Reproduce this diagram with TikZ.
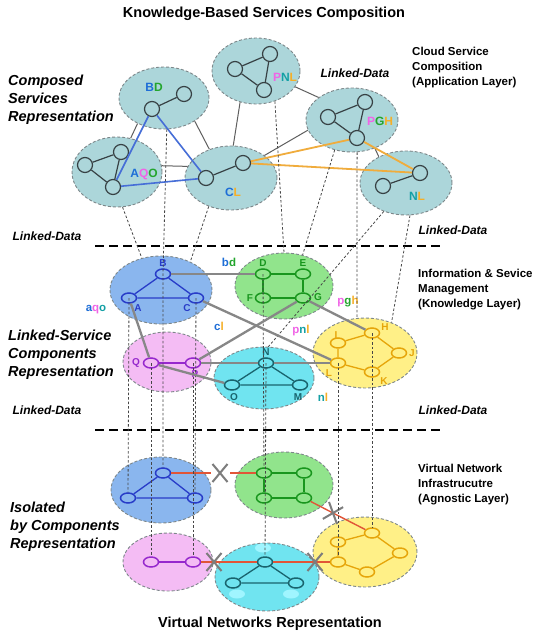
\documentclass[tikz,border=0pt]{standalone}
\usepackage{fontspec}
\setmainfont{Liberation Sans}
\usetikzlibrary{shapes.geometric,shapes.misc}
\definecolor{topfill}{RGB}{172,214,218}
\definecolor{topedge}{RGB}{125,135,138}
\definecolor{tnode}{RGB}{55,65,68}
\definecolor{blfill}{RGB}{138,182,238}
\definecolor{grfill}{RGB}{145,228,140}
\definecolor{pkfill}{RGB}{244,188,244}
\definecolor{cyfill}{RGB}{112,228,240}
\definecolor{cyspot}{RGB}{160,245,255}
\definecolor{yefill}{RGB}{255,240,135}
\definecolor{blline}{RGB}{40,60,200}
\definecolor{grline}{RGB}{25,150,30}
\definecolor{pkline}{RGB}{150,40,205}
\definecolor{cyline}{RGB}{25,100,110}
\definecolor{yeline}{RGB}{230,165,10}
\definecolor{lkgray}{RGB}{135,135,135}
\definecolor{xgray}{RGB}{125,125,125}
\definecolor{compblue}{RGB}{70,110,215}
\definecolor{comporange}{RGB}{240,172,60}
\definecolor{redl}{RGB}{225,85,55}
\definecolor{cA}{RGB}{30,110,215}
\definecolor{cG}{RGB}{35,165,45}
\definecolor{cP}{RGB}{240,100,230}
\definecolor{cN}{RGB}{20,160,165}
\definecolor{cL}{RGB}{245,175,40}
\definecolor{dotc}{RGB}{70,70,70}
\definecolor{glk}{RGB}{95,95,95}
\tikzset{
  grp/.style={ellipse, inner sep=0pt, draw=topedge, dash pattern=on 3pt off 2pt, line width=0.9pt},
  topgrp/.style={grp, fill=topfill},
  tn/.style={circle, draw=tnode, fill=topfill, line width=1.2pt, minimum size=15pt, inner sep=0pt},
  tedge/.style={draw=tnode, line width=1.2pt},
  glink/.style={draw=glk, line width=1pt},
  mn/.style={ellipse, inner sep=0pt, minimum width=15pt, minimum height=10pt, line width=1.5pt},
  mnb/.style={mn, draw=blline, fill=blfill},
  mng/.style={mn, draw=grline, fill=grfill},
  mnp/.style={mn, draw=pkline, fill=pkfill},
  mnc/.style={mn, draw=cyline, fill=cyfill},
  mny/.style={mn, draw=yeline, fill=yefill},
  dl/.style={draw=dotc, line width=0.8pt, dash pattern=on 2.5pt off 2pt},
  lk/.style={draw=lkgray, line width=2.3pt},
  sepline/.style={draw=black, line width=1.8pt, dash pattern=on 9pt off 5pt},
  redlink/.style={draw=redl, line width=1.4pt},
  xm/.style={cross out, draw=xgray, line width=2pt, minimum width=13pt, minimum height=16pt, inner sep=0pt},
  spot/.style={ellipse, fill=cyspot, inner sep=0pt, minimum width=16pt, minimum height=9pt},
  ml/.style={font=\bfseries\fontsize{10}{12}\selectfont, inner sep=0pt},
  lab12/.style={font=\bfseries\fontsize{12}{14}\selectfont, inner sep=0pt},
  lab11/.style={font=\bfseries\fontsize{11.5}{14}\selectfont, inner sep=0pt},
  bigital/.style={font=\bfseries\itshape\fontsize{14.5}{18}\selectfont, align=left, anchor=west, inner sep=0pt},
  rightlab/.style={font=\bfseries\fontsize{11.5}{15}\selectfont, align=left, anchor=west, inner sep=0pt},
  ldata/.style={font=\bfseries\itshape\fontsize{12}{14}\selectfont, inner sep=0pt},
  heading/.style={font=\bfseries\fontsize{14.5}{17}\selectfont, inner sep=0pt}
}
\begin{document}
\begin{tikzpicture}[x=1pt,y=-1pt]
\fill[white] (0,0) rectangle (535,635);
\useasboundingbox (0,0) rectangle (535,635);

% ---------- texts ----------
\node[heading] (title) at (264,14) {Knowledge-Based Services Composition};
\node[heading] (bottomtitle) at (270,624) {Virtual Networks Representation};
\node[bigital] (lt1) at (8,100) {Composed\\Services\\Representation};
\node[bigital] (lt2) at (8,355) {Linked-Service\\Components\\Representation};
\node[bigital] (lt3) at (10,527) {Isolated\\by Components\\Representation};
\node[rightlab] (rt1) at (412,68) {Cloud Service\\Composition\\(Application Layer)};
\node[rightlab] (rt2) at (418,290) {Information \& Sevice\\Management\\(Knowledge Layer)};
\node[rightlab] (rt3) at (418,485) {Virtual Network\\Infrastrucutre\\(Agnostic Layer)};
\node[ldata] (ld1) at (355,73) {Linked-Data};
\node[ldata] (ld2) at (47,236) {Linked-Data};
\node[ldata] (ld3) at (453,230) {Linked-Data};
\node[ldata] (ld4) at (47,410) {Linked-Data};
\node[ldata] (ld5) at (453,410) {Linked-Data};

% separators
\coordinate (s1a) at (95,246); \coordinate (s1b) at (441,246);
\coordinate (s2a) at (95,430); \coordinate (s2b) at (441,430);
\draw[sepline] (s1a) -- (s1b);
\draw[sepline] (s2a) -- (s2b);

% ---------- top layer ----------
\node[topgrp, minimum width=90pt, minimum height=62pt] (eBD) at (164,98) {};
\node[topgrp, minimum width=90pt, minimum height=70pt] (eAQO) at (117,172) {};
\node[topgrp, minimum width=92pt, minimum height=64pt] (eCL) at (231,178) {};
\node[topgrp, minimum width=88pt, minimum height=66pt] (ePNL) at (256,71) {};
\node[topgrp, minimum width=92pt, minimum height=64pt] (ePGH) at (352,120) {};
\node[topgrp, minimum width=92pt, minimum height=64pt] (eNL) at (406,183) {};

% gray links between top groups
\draw[glink] (eBD.224) -- (eAQO.68);
\draw[glink] (eBD.323) -- (eCL.127);
\draw[glink] (eAQO.8) -- (eCL.165);
\draw[glink] (ePNL.243) -- (eCL.86);
\draw[glink] (eCL.34) -- (ePGH.193);
\draw[glink] (ePNL.338) -- (ePGH.146);
\draw[glink] (ePGH.309) -- (eNL.136);

\node[tn] (bd1) at (152,109) {};
\node[tn] (bd2) at (184,94) {};
\node[tn] (aq1) at (85,165) {};
\node[tn] (aq2) at (121,152) {};
\node[tn] (aq3) at (113,187) {};
\node[tn] (cl1) at (206,178) {};
\node[tn] (cl2) at (243,163) {};
\node[tn] (pn1) at (235,69) {};
\node[tn] (pn2) at (270,54) {};
\node[tn] (pn3) at (264,90) {};
\node[tn] (pg1) at (328,117) {};
\node[tn] (pg2) at (365,102) {};
\node[tn] (pg3) at (357,138) {};
\node[tn] (nl1) at (383,186) {};
\node[tn] (nl2) at (420,173) {};

\draw[tedge] (bd1) -- (bd2);
\draw[tedge] (aq1) -- (aq2) (aq1) -- (aq3) (aq2) -- (aq3);
\draw[tedge] (cl1) -- (cl2);
\draw[tedge] (pn1) -- (pn2) (pn1) -- (pn3) (pn2) -- (pn3);
\draw[tedge] (pg1) -- (pg2) (pg1) -- (pg3) (pg2) -- (pg3);
\draw[tedge] (nl1) -- (nl2);

\draw[compblue, line width=1.6pt] (bd1) -- (aq3) (bd1) -- (cl1) (aq3) -- (cl1);
\draw[comporange, line width=1.8pt] (cl2) -- (pg3) (cl2) -- (nl2) (pg3) -- (nl2);

\node[lab12] (tBD) at (154,87) {\textcolor{cA}{B}\textcolor{cG}{D}};
\node[lab12] (tAQO) at (144,174) {\textcolor{cA}{A}\textcolor{cP}{Q}\textcolor{cG}{O}};
\node[lab12] (tCL) at (233,192) {\textcolor{cA}{C}\textcolor{cL}{L}};
\node[lab12] (tPNL) at (285,77) {\textcolor{cP}{P}\textcolor{cN}{N}\textcolor{cL}{L}};
\node[lab12] (tPGH) at (380,121) {\textcolor{cP}{P}\textcolor{cG}{G}\textcolor{cL}{H}};
\node[lab12] (tNL) at (417,196) {\textcolor{cN}{N}\textcolor{cL}{L}};

% ---------- middle layer ----------
\node[grp, fill=blfill, minimum width=102pt, minimum height=68pt] (eBl) at (161,290) {};
\node[grp, fill=grfill, minimum width=98pt, minimum height=66pt] (eGr) at (284,286) {};
\node[grp, fill=pkfill, minimum width=88pt, minimum height=60pt] (ePk) at (167,362) {};
\node[grp, fill=cyfill, minimum width=100pt, minimum height=62pt] (eCy) at (264,378) {};
\node[grp, fill=yefill, minimum width=104pt, minimum height=70pt] (eYe) at (365,353) {};

\node[mnb] (mB) at (163,274) {};
\node[mnb] (mA) at (129,298) {};
\node[mnb] (mC) at (196,298) {};
\node[mng] (mD) at (263,274) {};
\node[mng] (mE) at (303,274) {};
\node[mng] (mF) at (263,298) {};
\node[mng] (mG) at (303,298) {};
\node[mnp] (mQ) at (151,363) {};
\node[mnp] (mP) at (193,363) {};
\node[mnc] (mN) at (266,363) {};
\node[mnc] (mO) at (232,385) {};
\node[mnc] (mM) at (300,385) {};
\node[mny] (mH) at (372,333) {};
\node[mny] (mI) at (338,343) {};
\node[mny] (mJ) at (399,353) {};
\node[mny] (mK) at (372,372) {};
\node[mny] (mL) at (338,363) {};

\draw[blline, line width=1.3pt] (mB) -- (mA) (mB) -- (mC) (mA) -- (mC);
\draw[grline, line width=1.3pt] (mD) -- (mE) (mE) -- (mG) (mG) -- (mF) (mF) -- (mD);
\draw[pkline, line width=1.3pt] (mQ) -- (mP);
\draw[cyline, line width=1.3pt] (mN) -- (mO) (mN) -- (mM) (mO) -- (mM);
\draw[yeline, line width=1.3pt] (mI) -- (mH) (mH) -- (mJ) (mJ) -- (mK) (mK) -- (mL) (mL) -- (mI);

\node[ml, text=blline] (lB) at (163,263) {B};
\node[ml, text=blline] (lA) at (138,308) {A};
\node[ml, text=blline] (lC) at (187,308) {C};
\node[ml, text=grline] (lD) at (263,263) {D};
\node[ml, text=grline] (lE) at (303,263) {E};
\node[ml, text=grline] (lF) at (250,298) {F};
\node[ml, text=grline] (lG) at (318,297) {G};
\node[ml, text=pkline] (lQ) at (136,363) {Q};
\node[ml, text=pkline] (lP) at (195,374) {P};
\node[ml, text=cyline] (lN) at (266,352) {N};
\node[ml, text=cyline] (lO) at (234,397) {O};
\node[ml, text=cyline] (lM) at (298,397) {M};
\node[ml, text=yeline] (lH) at (385,327) {H};
\node[ml, text=yeline] (lI) at (336,335) {I};
\node[ml, text=yeline] (lJ) at (412,353) {J};
\node[ml, text=yeline] (lK) at (384,381) {K};
\node[ml, text=yeline] (lL) at (329,373) {L};

\node[lab11] (tbd) at (229,262) {\textcolor{cA}{b}\textcolor{cG}{d}};
\node[lab11] (taqo) at (96,310) {\textcolor{cA}{a}\textcolor{cP}{q}\textcolor{cN}{o}};
\node[lab11] (tcl) at (219,326) {\textcolor{cA}{c}\textcolor{cL}{l}};
\node[lab11] (tpnl) at (301,331) {\textcolor{cP}{p}\textcolor{cN}{n}\textcolor{cL}{l}};
\node[lab11] (tpgh) at (348,302) {\textcolor{cP}{p}\textcolor{cG}{g}\textcolor{cL}{h}};
\node[lab11] (tnl) at (323,397) {\textcolor{cN}{n}\textcolor{cL}{l}};

% ---------- bottom layer ----------
\node[grp, fill=blfill, minimum width=100pt, minimum height=66pt] (eBb) at (161,490) {};
\node[grp, fill=grfill, minimum width=98pt, minimum height=66pt] (eGb) at (284,485) {};
\node[grp, fill=pkfill, minimum width=90pt, minimum height=58pt] (ePb) at (168,562) {};
\node[grp, fill=cyfill, minimum width=104pt, minimum height=68pt] (eCb) at (267,577) {};
\node[grp, fill=yefill, minimum width=104pt, minimum height=70pt] (eYb) at (365,552) {};
\node[spot] (sp1) at (263,548) {};
\node[spot] (sp2) at (237,594) {};
\node[spot] (sp3) at (291,594) {};

\node[mnb] (bB) at (163,473) {};
\node[mnb] (bA) at (128,498) {};
\node[mnb] (bC) at (195,498) {};
\node[mng] (bD) at (264,473) {};
\node[mng] (bE) at (304,473) {};
\node[mng] (bF) at (264,498) {};
\node[mng] (bG) at (304,498) {};
\node[mnp] (bQ) at (151,562) {};
\node[mnp] (bP) at (193,562) {};
\node[mnc] (bN) at (265,562) {};
\node[mnc] (bO) at (233,583) {};
\node[mnc] (bM) at (296,583) {};
\node[mny] (bH) at (372,533) {};
\node[mny] (bI) at (338,542) {};
\node[mny] (bJ) at (400,553) {};
\node[mny] (bK) at (367,572) {};
\node[mny] (bL) at (338,562) {};

\draw[blline, line width=1.3pt] (bB) -- (bA) (bB) -- (bC) (bA) -- (bC);
\draw[grline, line width=1.3pt] (bD) -- (bE) (bE) -- (bG) (bG) -- (bF) (bF) -- (bD);
\draw[pkline, line width=1.3pt] (bQ) -- (bP);
\draw[cyline, line width=1.3pt] (bN) -- (bO) (bN) -- (bM) (bO) -- (bM);
\draw[yeline, line width=1.3pt] (bI) -- (bH) (bH) -- (bJ) (bJ) -- (bK) (bK) -- (bL) (bL) -- (bI);

% red links and crosses
\coordinate (x1) at (220,473);
\coordinate (x1a) at (211,473);
\coordinate (x1b) at (230,473);
\coordinate (x2) at (333,513);
\coordinate (x3) at (214,562);
\coordinate (x4) at (315,562);
\draw[redlink] (bB) -- (x1a);
\draw[redlink] (x1b) -- (bD);
\draw[redlink] (bG) -- (x2) -- (bH);
\draw[redlink] (bP) -- (x3) -- (bN);
\draw[redlink] (bN) -- (x4) -- (bL);
\node[xm] (X1) at (x1) {};
\node[xm, rotate=-20] (X2) at (x2) {};
\node[xm] (X3) at (x3) {};
\node[xm] (X4) at (x4) {};

% ---------- dotted mappings ----------
\draw[dl] (eAQO.279) -- (eBl.121);
\draw[dl] (eBD.275) -- (mB.center) -- (bB);
\draw[dl] (eCL.232) -- (eBl.44);
\draw[dl] (ePNL.302) -- (eGr.90);
\draw[dl] (ePGH.240) -- (eGr.59);
\draw[dl] (ePGH.279) -- (eYe.103);
\draw[dl] (eNL.232) -- (eCy.82);
\draw[dl] (eNL.277) -- (eYe.49);
\draw[dl] (mA.center) -- (bA);
\draw[dl] (mC.center) -- (bC);
\draw[dl] (mQ.center) -- (bQ);
\draw[dl] (mP.center) -- (bP);
\draw[dl] (mD.center) -- (bD);
\draw[dl] (mN.center) -- (bN);
\draw[dl] (mL.center) -- (bL);
\draw[dl] (mH.center) -- (bH);

% ---------- gray linked-service links ----------
\draw[lk] (mB) -- (mD);
\draw[lk] (mA) -- (mQ);
\draw[lk] (mQ) -- (mO);
\draw[lk] (mC) -- (mL);
\draw[lk] (mP) -- (mG);
\draw[lk] (mP) -- (mN);
\draw[lk] (mN) -- (mL);
\draw[lk] (mG) -- (mH);
\end{tikzpicture}
\end{document}
